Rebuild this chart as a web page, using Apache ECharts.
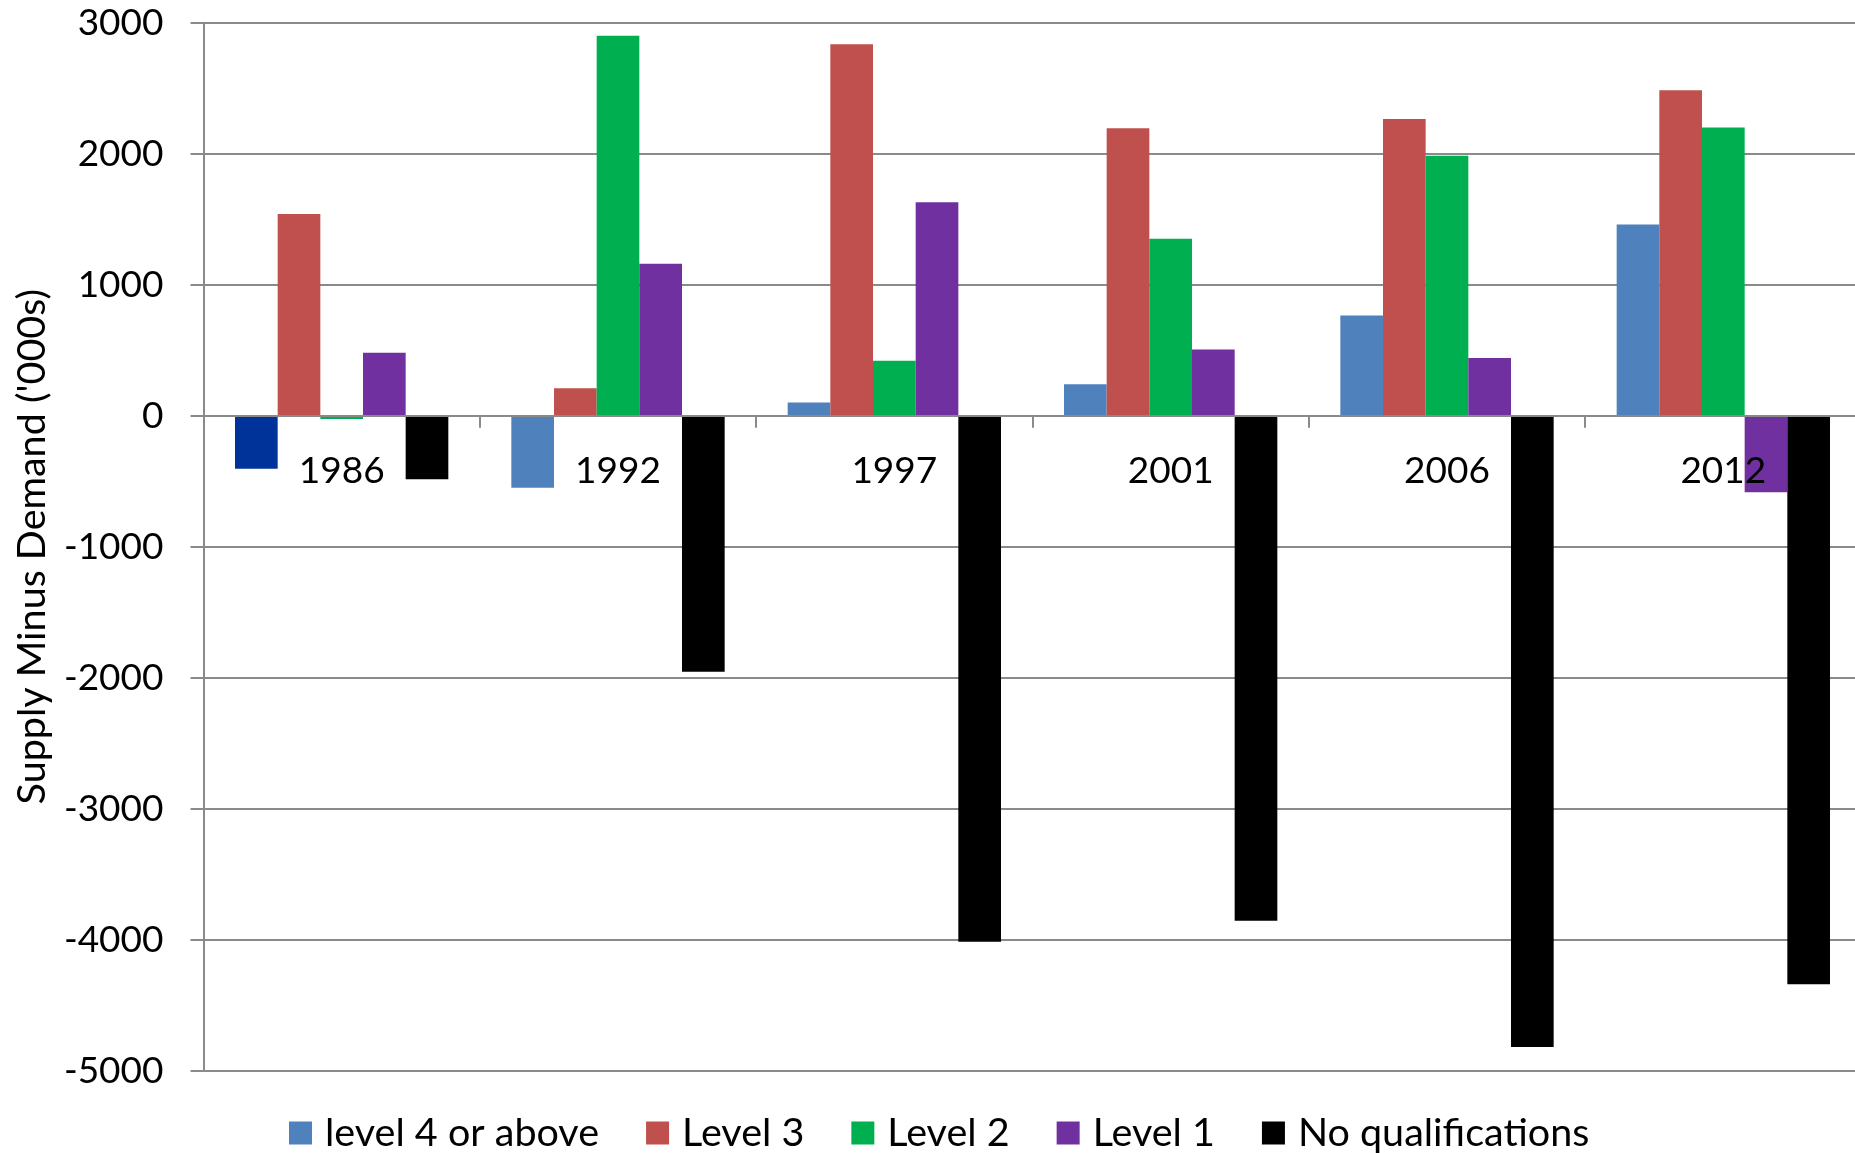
<!DOCTYPE html>
<html>
<head>
<meta charset="utf-8">
<title>Supply Minus Demand by qualification level</title>
<script src="https://cdn.jsdelivr.net/npm/echarts@6/dist/echarts.min.js"></script>
<style>
  html, body { margin: 0; padding: 0; background: #ffffff; }
  #chart { width: 1855px; height: 1153px; }
</style>
</head>
<body>
<div id="chart"></div>
<script>
// Survey years along the category axis
const years = ['1986', '1992', '1997', '2001', '2006', '2012'];

// Supply minus demand ('000s) for each qualification level
const level4OrAbove = [-405, -550, 100, 240, 765, 1460];
const level3 = [1540, 210, 2835, 2195, 2265, 2485];
const level2 = [-25, 2900, 420, 1350, 1985, 2200];
const level1 = [480, 1160, 1630, 505, 440, -585];
const noQualifications = [-485, -1955, -4015, -3855, -4820, -4340];

// Value axis range and step
const yMin = -5000;
const yMax = 3000;
const yStep = 1000;

const FONT = 'Lato';
const GRID_GREY = '#8a8a8a';

// Plot area geometry
const GRID_LEFT = 203.5;
const GRID_TOP = 22.7;
const GRID_WIDTH = 1658;
const GRID_HEIGHT = 1048;

// Category axis sits on the zero line: shift it up from the bottom edge
const zeroOffset = -((0 - yMin) / (yMax - yMin)) * GRID_HEIGHT;

const seriesDefs = [
  { name: 'level 4 or above', values: level4OrAbove, color: '#4F81BD' },
  { name: 'Level 3', values: level3, color: '#C0504D' },
  { name: 'Level 2', values: level2, color: '#00B050' },
  { name: 'Level 1', values: level1, color: '#7030A0' },
  { name: 'No qualifications', values: noQualifications, color: '#000000' }
];

// The 1986 "level 4 or above" bar is filled in a darker blue
const firstPointOverride = { 'level 4 or above': '#003399' };

const series = seriesDefs.map(function (s) {
  return {
    name: s.name,
    type: 'bar',
    barGap: '0%',
    barCategoryGap: '22.8%',
    itemStyle: { color: s.color },
    emphasis: { disabled: true },
    data: s.values.map(function (v, i) {
      if (i === 0 && firstPointOverride[s.name]) {
        return { value: v, itemStyle: { color: firstPointOverride[s.name] } };
      }
      return v;
    })
  };
});

const chart = echarts.init(document.getElementById('chart'), null, { renderer: 'canvas' });

chart.setOption({
  animation: false,
  backgroundColor: '#ffffff',
  textStyle: { fontFamily: FONT },
  grid: {
    left: GRID_LEFT,
    top: GRID_TOP,
    width: GRID_WIDTH,
    height: GRID_HEIGHT,
    containLabel: false,
    outerBoundsMode: 'none'
  },
  legend: {
    show: true,
    orient: 'horizontal',
    left: 284,
    top: 1108,
    icon: 'rect',
    itemWidth: 23,
    itemHeight: 23,
    itemGap: 47,
    selectedMode: false,
    textStyle: {
      fontFamily: FONT,
      fontSize: 39.5,
      color: '#000000',
      lineHeight: 40,
      padding: [0, 0, 0, 8]
    },
    data: seriesDefs.map(function (s) { return s.name; })
  },
  xAxis: {
    type: 'category',
    data: years,
    z: 3,
    boundaryGap: true,
    offset: zeroOffset,
    axisLine: {
      show: true,
      onZero: false,
      lineStyle: { color: GRID_GREY, width: 2 }
    },
    axisTick: {
      show: true,
      inside: false,
      length: 12,
      alignWithLabel: false,
      lineStyle: { color: GRID_GREY, width: 2 }
    },
    axisLabel: {
      show: true,
      interval: 0,
      margin: 37,
      fontFamily: FONT,
      fontSize: 37,
      color: '#000000'
    },
    splitLine: { show: false }
  },
  yAxis: {
    type: 'value',
    min: yMin,
    max: yMax,
    interval: yStep,
    name: "Supply Minus Demand ('000s)",
    nameLocation: 'middle',
    nameGap: 151,
    nameRotate: 90,
    nameTextStyle: {
      fontFamily: FONT,
      fontSize: 39.5,
      color: '#000000'
    },
    axisLine: {
      show: true,
      lineStyle: { color: GRID_GREY, width: 2 }
    },
    axisTick: {
      show: true,
      inside: false,
      length: 13,
      lineStyle: { color: GRID_GREY, width: 2 }
    },
    axisLabel: {
      show: true,
      margin: 40,
      fontFamily: FONT,
      fontSize: 37,
      color: '#000000',
      formatter: function (v) { return String(v); }
    },
    splitLine: {
      show: true,
      lineStyle: { color: GRID_GREY, width: 2 }
    }
  },
  series: series
});
</script>
</body>
</html>
